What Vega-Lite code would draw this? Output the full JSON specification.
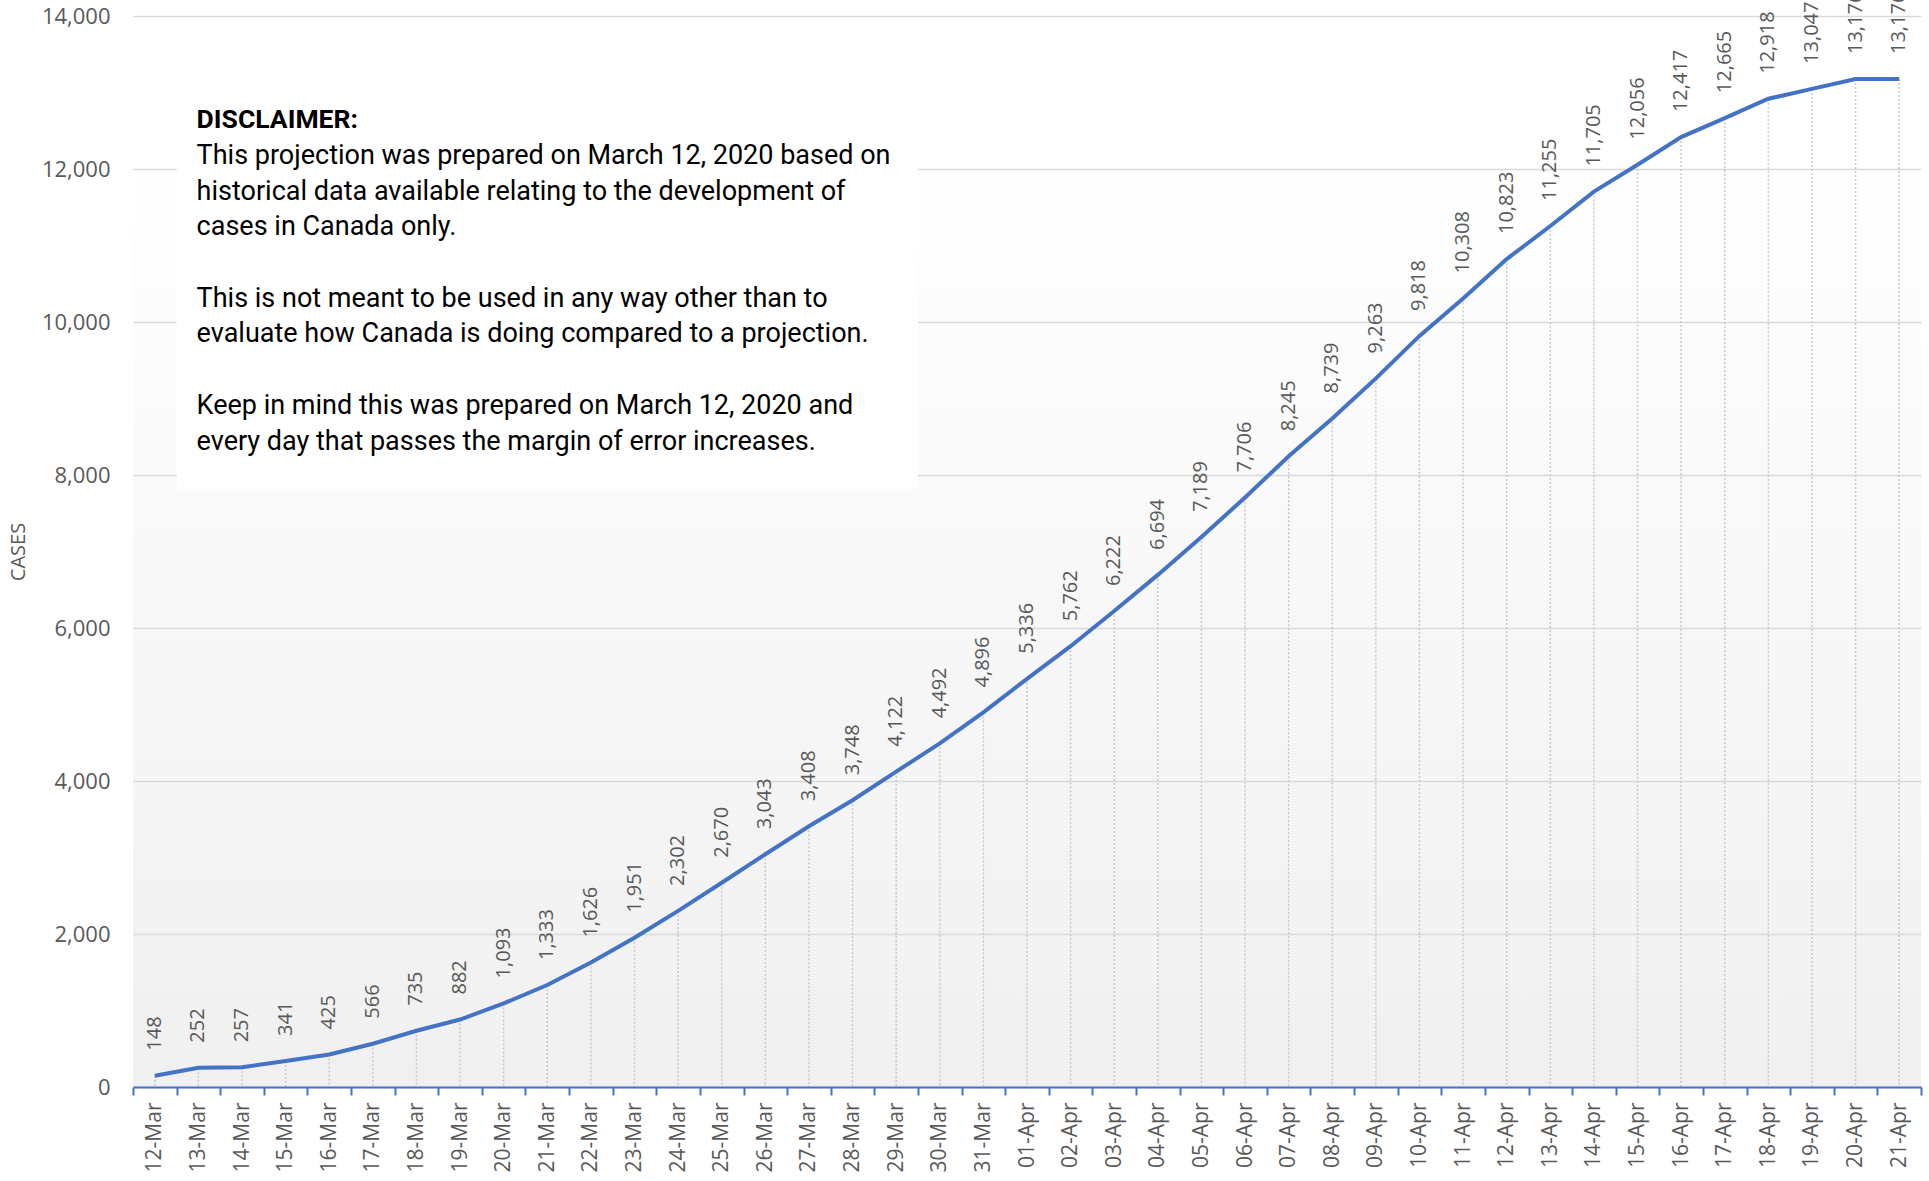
{
  "$schema": "https://vega.github.io/schema/vega-lite/v6.json",
  "width": 1788,
  "height": 1071,
  "autosize": {"type": "none"},
  "padding": {"left": 133, "top": 16, "right": 8, "bottom": 94},
  "background": "#ffffff",
  "config": {
    "view": {"stroke": null, "fill": {"gradient": "linear", "x1": 0, "y1": 0, "x2": 0, "y2": 1, "stops": [{"offset": 0, "color": "#ffffff"}, {"offset": 0.12, "color": "#ffffff"}, {"offset": 1, "color": "#f0f0f0"}]}},
    "font": "Open Sans"
  },
  "data": {"values": [
    {"d": "12-Mar", "v": 148}, {"d": "13-Mar", "v": 252}, {"d": "14-Mar", "v": 257}, {"d": "15-Mar", "v": 341},
    {"d": "16-Mar", "v": 425}, {"d": "17-Mar", "v": 566}, {"d": "18-Mar", "v": 735}, {"d": "19-Mar", "v": 882},
    {"d": "20-Mar", "v": 1093}, {"d": "21-Mar", "v": 1333}, {"d": "22-Mar", "v": 1626}, {"d": "23-Mar", "v": 1951},
    {"d": "24-Mar", "v": 2302}, {"d": "25-Mar", "v": 2670}, {"d": "26-Mar", "v": 3043}, {"d": "27-Mar", "v": 3408},
    {"d": "28-Mar", "v": 3748}, {"d": "29-Mar", "v": 4122}, {"d": "30-Mar", "v": 4492}, {"d": "31-Mar", "v": 4896},
    {"d": "01-Apr", "v": 5336}, {"d": "02-Apr", "v": 5762}, {"d": "03-Apr", "v": 6222}, {"d": "04-Apr", "v": 6694},
    {"d": "05-Apr", "v": 7189}, {"d": "06-Apr", "v": 7706}, {"d": "07-Apr", "v": 8245}, {"d": "08-Apr", "v": 8739},
    {"d": "09-Apr", "v": 9263}, {"d": "10-Apr", "v": 9818}, {"d": "11-Apr", "v": 10308}, {"d": "12-Apr", "v": 10823},
    {"d": "13-Apr", "v": 11255}, {"d": "14-Apr", "v": 11705}, {"d": "15-Apr", "v": 12056}, {"d": "16-Apr", "v": 12417},
    {"d": "17-Apr", "v": 12665}, {"d": "18-Apr", "v": 12918}, {"d": "19-Apr", "v": 13047}, {"d": "20-Apr", "v": 13176},
    {"d": "21-Apr", "v": 13176}
  ]},
  "encoding": {
    "x": {
      "field": "d", "type": "ordinal", "sort": null,
      "scale": {"paddingInner": 0, "paddingOuter": 0, "domain": ["12-Mar","13-Mar","14-Mar","15-Mar","16-Mar","17-Mar","18-Mar","19-Mar","20-Mar","21-Mar","22-Mar","23-Mar","24-Mar","25-Mar","26-Mar","27-Mar","28-Mar","29-Mar","30-Mar","31-Mar","01-Apr","02-Apr","03-Apr","04-Apr","05-Apr","06-Apr","07-Apr","08-Apr","09-Apr","10-Apr","11-Apr","12-Apr","13-Apr","14-Apr","15-Apr","16-Apr","17-Apr","18-Apr","19-Apr","20-Apr","21-Apr"]},
      "axis": {
        "title": null, "labelAngle": -90, "labelFontSize": 21, "labelColor": "#595959",
        "labelPadding": 7, "labelOverlap": false, "grid": false,
        "domainColor": "#4472C4", "domainWidth": 2, "tickColor": "#4472C4", "tickWidth": 2,
        "tickSize": 8, "tickBand": "extent"
      }
    },
    "y": {
      "field": "v", "type": "quantitative",
      "scale": {"domain": [0, 14000], "nice": false},
      "axis": {
        "title": "CASES", "titleFontWeight": "normal", "titleColor": "#595959", "titleFontSize": 20,
        "titlePadding": 13, "values": [0, 2000, 4000, 6000, 8000, 10000, 12000, 14000], "format": ",d",
        "labelFontSize": 22, "labelColor": "#595959", "labelPadding": 23, "domain": false, "ticks": false,
        "gridColor": "#d9d9d9", "gridWidth": 1.5
      }
    }
  },
  "layer": [
    {
      "transform": [{"filter": "datum.d == '12-Mar'"}],
      "mark": {"type": "rect", "color": "#ffffff"},
      "encoding": {
        "x": {"datum": "13-Mar", "bandPosition": 0},
        "x2": {"datum": "30-Mar", "bandPosition": 0},
        "y": {"datum": 13300},
        "y2": {"datum": 7820}
      }
    },
    {
      "mark": {"type": "rule", "color": "#c8c8c8", "strokeWidth": 1.5, "strokeDash": [2, 2]},
      "encoding": {"y2": {"datum": 0}}
    },
    {
      "mark": {"type": "line", "color": "#4472C4", "strokeWidth": 4}
    },
    {
      "mark": {"type": "text", "angle": -90, "align": "left", "baseline": "middle", "dx": 25, "fontSize": 20, "color": "#595959"},
      "encoding": {"text": {"field": "v", "type": "quantitative", "format": ",d"}}
    },
    {
      "transform": [{"filter": "datum.d == '12-Mar'"}],
      "mark": {"type": "text", "align": "left", "baseline": "alphabetic", "dx": 20, "font": "Roboto", "fontSize": 26.5, "fontWeight": "bold", "color": "#000000"},
      "encoding": {
        "x": {"datum": "13-Mar", "bandPosition": 0},
        "y": {"datum": 12536},
        "text": {"value": "DISCLAIMER:"}
      }
    },
    {
      "transform": [{"filter": "datum.d == '12-Mar'"}],
      "mark": {"type": "text", "align": "left", "baseline": "alphabetic", "dx": 20, "dy": 36, "lineHeight": 35.7, "font": "Roboto", "fontSize": 27, "color": "#000000"},
      "encoding": {
        "x": {"datum": "13-Mar", "bandPosition": 0},
        "y": {"datum": 12536},
        "text": {"value": ["This projection was prepared on March 12, 2020 based on", "historical data available relating to the development of", "cases in Canada only."]}
      }
    },
    {
      "transform": [{"filter": "datum.d == '12-Mar'"}],
      "mark": {"type": "text", "align": "left", "baseline": "alphabetic", "dx": 20, "dy": 178.8, "lineHeight": 35.7, "font": "Roboto", "fontSize": 27, "color": "#000000"},
      "encoding": {
        "x": {"datum": "13-Mar", "bandPosition": 0},
        "y": {"datum": 12536},
        "text": {"value": ["This is not meant to be used in any way other than to", "evaluate how Canada is doing compared to a projection."]}
      }
    },
    {
      "transform": [{"filter": "datum.d == '12-Mar'"}],
      "mark": {"type": "text", "align": "left", "baseline": "alphabetic", "dx": 20, "dy": 285.9, "lineHeight": 35.7, "font": "Roboto", "fontSize": 27, "color": "#000000"},
      "encoding": {
        "x": {"datum": "13-Mar", "bandPosition": 0},
        "y": {"datum": 12536},
        "text": {"value": ["Keep in mind this was prepared on March 12, 2020 and", "every day that passes the margin of error increases."]}
      }
    }
  ]
}
